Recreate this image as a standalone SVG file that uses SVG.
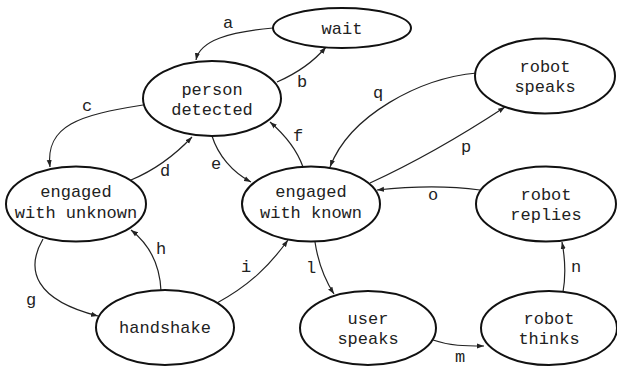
<svg xmlns="http://www.w3.org/2000/svg" width="617" height="368" viewBox="0 0 617 368">
<defs>
<marker id="ah" markerWidth="8" markerHeight="6" refX="7" refY="3" orient="auto" markerUnits="userSpaceOnUse">
<path d="M0,0.5 L7,3 L0,5.5 z" fill="#222"/>
</marker>
<style>
.n ellipse{fill:#fff;stroke:#111;stroke-width:2}
.n text,.l{font-family:"Liberation Mono","DejaVu Sans Mono",monospace;font-size:17px;fill:#222;text-anchor:middle}
.e path{fill:none;stroke:#222;stroke-width:1.2;marker-end:url(#ah)}
</style>
</defs>
<rect width="617" height="368" fill="#fff"/>
<g class="e" id="edges">
<path d="M273,28 C230,32 200,40 196,60"/>
<path d="M277,82 C300,72 315,60 326,47"/>
<path d="M143,105 C80,115 45,125 50,167"/>
<path d="M131,180 C155,170 175,155 192,137"/>
<path d="M212,136 C218,155 232,172 251,182"/>
<path d="M303,167 C297,150 285,135 270,122"/>
<path d="M43,239 C25,270 35,300 98,316"/>
<path d="M161,291 C160,265 150,245 131,230"/>
<path d="M217,303 C250,285 270,265 288,240"/>
<path d="M315,242 C318,262 325,280 334,294"/>
<path d="M433,340 C450,346 465,346 484,346"/>
<path d="M563,292 C566,275 565,258 562,242"/>
<path d="M480,190 C450,186 415,186 377,190"/>
<path d="M370,183 C420,160 470,130 505,107"/>
<path d="M477,73 C420,78 350,115 330,167"/>
</g>
<g id="labels">
<text class="l" x="228" y="28">a</text>
<text class="l" x="302" y="87">b</text>
<text class="l" x="87" y="111">c</text>
<text class="l" x="165" y="176">d</text>
<text class="l" x="216" y="169">e</text>
<text class="l" x="298" y="141">f</text>
<text class="l" x="31" y="305">g</text>
<text class="l" x="161" y="254">h</text>
<text class="l" x="246" y="272">i</text>
<text class="l" x="311" y="273">l</text>
<text class="l" x="460" y="362">m</text>
<text class="l" x="576" y="272">n</text>
<text class="l" x="433" y="200">o</text>
<text class="l" x="466" y="152">p</text>
<text class="l" x="378" y="98">q</text>
</g>
<g class="n" id="wait"><ellipse cx="342" cy="28" rx="69" ry="20"/><text x="342" y="34">wait</text></g>
<g class="n" id="person"><ellipse cx="212" cy="98.5" rx="69" ry="37.5"/><text x="212" y="95">person</text><text x="212" y="115">detected</text></g>
<g class="n" id="robotspeaks"><ellipse cx="545" cy="76" rx="70" ry="37.5"/><text x="545" y="72">robot</text><text x="545" y="92">speaks</text></g>
<g class="n" id="unknown"><ellipse cx="76" cy="204" rx="70" ry="37.5"/><text x="76" y="197">engaged</text><text x="76" y="218">with unknown</text></g>
<g class="n" id="known"><ellipse cx="311" cy="204" rx="69" ry="37.5"/><text x="311" y="197">engaged</text><text x="311" y="218">with known</text></g>
<g class="n" id="replies"><ellipse cx="546" cy="204" rx="70" ry="37.5"/><text x="546" y="200">robot</text><text x="546" y="220">replies</text></g>
<g class="n" id="handshake"><ellipse cx="165" cy="327.5" rx="69" ry="37.5"/><text x="165" y="333">handshake</text></g>
<g class="n" id="userspeaks"><ellipse cx="368" cy="328" rx="68" ry="37"/><text x="368" y="324">user</text><text x="368" y="344">speaks</text></g>
<g class="n" id="thinks"><ellipse cx="549" cy="328" rx="68" ry="37"/><text x="549" y="324">robot</text><text x="549" y="344">thinks</text></g>
</svg>
